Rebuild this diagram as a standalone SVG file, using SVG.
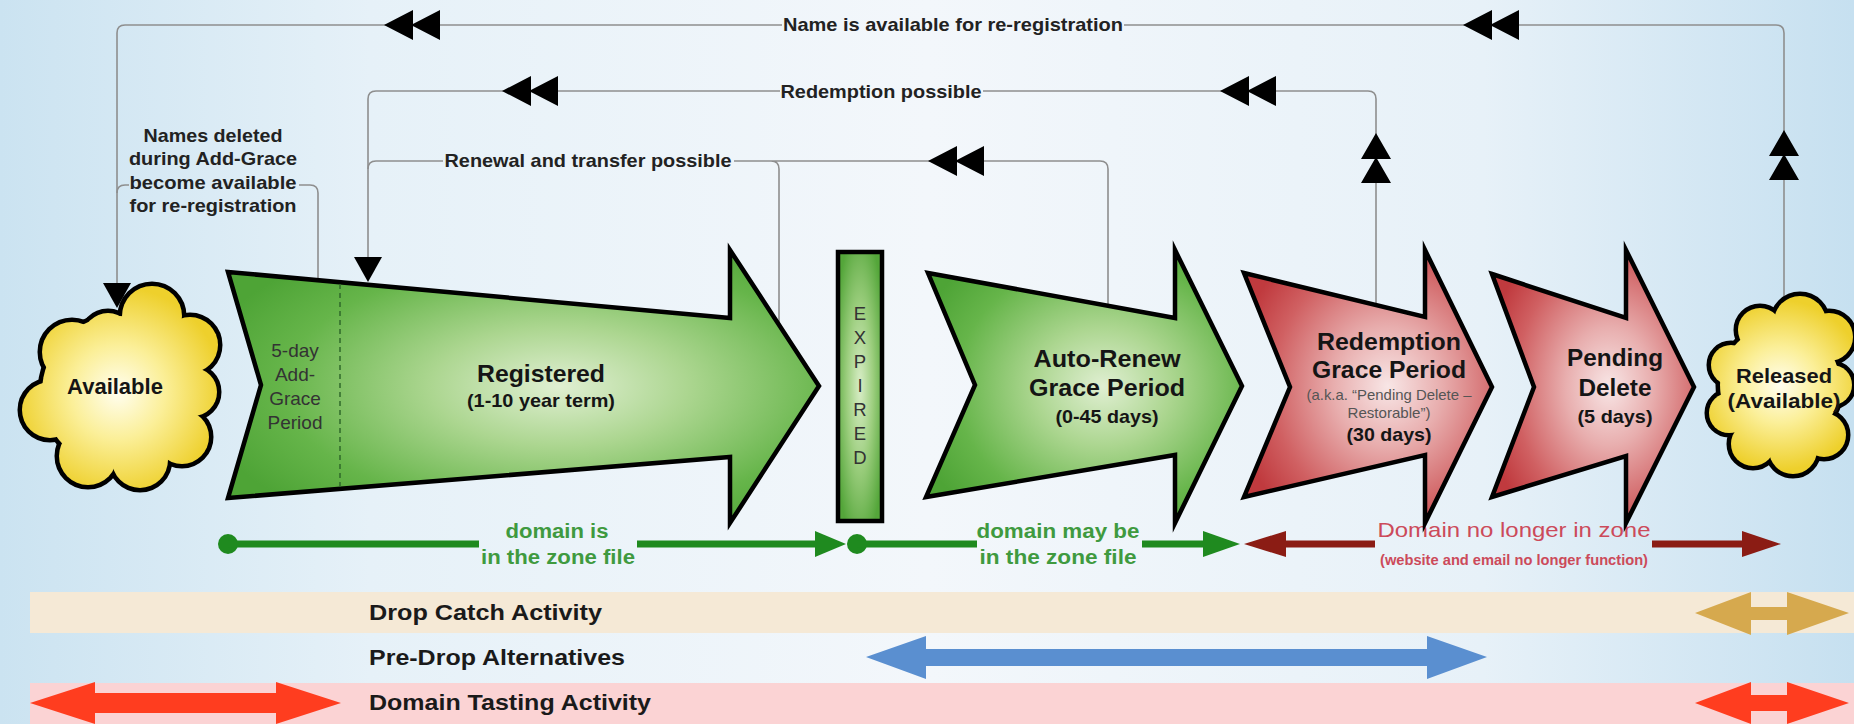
<svg xmlns="http://www.w3.org/2000/svg" xmlns:xlink="http://www.w3.org/1999/xlink" width="1854" height="724" viewBox="0 0 1854 724">
<defs>
<linearGradient id="bg" x1="0" y1="0" x2="1" y2="0">
<stop offset="0" stop-color="#cbe3f1"/><stop offset="0.2" stop-color="#e6f1f8"/><stop offset="0.5" stop-color="#f3f7fb"/><stop offset="0.8" stop-color="#e7f1f8"/><stop offset="1" stop-color="#c6e0f0"/>
</linearGradient>
<radialGradient id="gGreen" cx="0.56" cy="0.5" r="0.62">
<stop offset="0" stop-color="#e0efd2"/><stop offset="0.35" stop-color="#acd690"/><stop offset="0.75" stop-color="#66b54a"/><stop offset="1" stop-color="#4ea436"/>
</radialGradient>
<radialGradient id="gRed" cx="0.58" cy="0.5" r="0.62">
<stop offset="0" stop-color="#f8e6e6"/><stop offset="0.35" stop-color="#e8aeae"/><stop offset="0.75" stop-color="#d06062"/><stop offset="1" stop-color="#c03a3e"/>
</radialGradient>
<radialGradient id="gExp" cx="0.5" cy="0.5" r="0.6">
<stop offset="0" stop-color="#d8edc6"/><stop offset="0.5" stop-color="#9cce7e"/><stop offset="1" stop-color="#54a63a"/>
</radialGradient>
<radialGradient id="gCloudA" gradientUnits="userSpaceOnUse" cx="118" cy="392" r="105">
<stop offset="0" stop-color="#fffef0"/><stop offset="0.45" stop-color="#fbef98"/><stop offset="1" stop-color="#eed02c"/>
</radialGradient>
<radialGradient id="gCloudR" gradientUnits="userSpaceOnUse" cx="1780" cy="385" r="85">
<stop offset="0" stop-color="#fffef0"/><stop offset="0.45" stop-color="#fbef98"/><stop offset="1" stop-color="#eed02c"/>
</radialGradient>
<g id="cloudA">
<circle cx="152" cy="316" r="30"/><circle cx="190" cy="345" r="28"/><circle cx="193" cy="392" r="24"/><circle cx="182" cy="437" r="27"/><circle cx="140" cy="460" r="28"/><circle cx="88" cy="456" r="29"/><circle cx="50" cy="410" r="28"/><circle cx="72" cy="352" r="30"/><circle cx="108" cy="338" r="25"/><circle cx="118" cy="392" r="76"/>
</g>
<g id="cloudR">
<circle cx="1760" cy="330" r="22"/><circle cx="1800" cy="322" r="26"/><circle cx="1829" cy="337" r="24"/><circle cx="1832" cy="385" r="20"/><circle cx="1824" cy="435" r="22"/><circle cx="1793" cy="450" r="24"/><circle cx="1753" cy="444" r="22"/><circle cx="1729" cy="413" r="20"/><circle cx="1731" cy="365" r="20"/><circle cx="1780" cy="385" r="60"/>
</g>
<path id="dblL" d="M0,0 L29,-15 L29,15 Z M27,0 L56,-15 L56,15 Z"/>
<path id="dblU" d="M0,0 L15,26 L-15,26 Z M0,24 L15,50 L-15,50 Z"/>
<path id="triD" d="M-14,0 L14,0 L0,25 Z"/>
</defs>
<style>
text{font-family:"Liberation Sans",Arial,Helvetica,sans-serif}
.conn{fill:none;stroke:#8e8e8e;stroke-width:1.6}
.ah{fill:#000}
.clbl{font-weight:bold;font-size:18.5px;fill:#222;text-anchor:middle}
.stage{stroke:#000;stroke-width:4.5;stroke-linejoin:miter;stroke-miterlimit:10}
.green{fill:url(#gGreen)}
.red{fill:url(#gRed)}
.big{font-weight:bold;font-size:24px;fill:#151515;text-anchor:middle}
.sub{font-weight:bold;font-size:19px;fill:#151515;text-anchor:middle}
.cloudtxt{font-weight:bold;font-size:21px;fill:#151515;text-anchor:middle}
.small{font-size:14.5px;fill:#555;text-anchor:middle}
.ag{font-size:19px;fill:#333;text-anchor:middle}
.exp{font-size:18.5px;fill:#333;text-anchor:middle}
.zg{font-weight:bold;font-size:20px;fill:#3f9a3f;text-anchor:middle}
.zr{font-size:21px;fill:#cc4a5a;text-anchor:middle}
.band{font-weight:bold;font-size:22px;fill:#1a1a1a}
</style>
<rect id="background" x="0" y="0" width="1854" height="724" fill="url(#bg)"/>

<g id="activity-bands">
<rect x="30" y="592" width="1824" height="41" fill="#f5e9d6"/>
<rect x="30" y="683" width="1824" height="41" fill="#fbd3d4"/>
<text class="band" x="369" y="620" textLength="233" lengthAdjust="spacingAndGlyphs">Drop Catch Activity</text>
<text class="band" x="369" y="665" textLength="256" lengthAdjust="spacingAndGlyphs">Pre-Drop Alternatives</text>
<text class="band" x="369" y="710" textLength="282" lengthAdjust="spacingAndGlyphs">Domain Tasting Activity</text>
<polygon fill="#d6a94e" points="1695,613 1751,592 1751,607 1787,607 1787,592 1849,613 1787,635 1787,620 1751,620 1751,635"/>
<polygon fill="#5a8fd0" points="866,657 926,636 926,649 1427,649 1427,636 1487,657 1427,679 1427,666 926,666 926,679"/>
<polygon fill="#ff3d1f" points="30,703 95,682 95,693 276,693 276,682 341,703 276,724 276,713 95,713 95,724"/>
<polygon fill="#ff3d1f" points="1695,703 1751,682 1751,695 1787,695 1787,682 1849,703 1787,724 1787,711 1751,711 1751,724"/>
</g>

<g id="zone-lines">
<circle cx="228" cy="544" r="10" fill="#1f8a1f"/>
<path d="M228,544 H479 M637,544 H816" stroke="#1f8a1f" stroke-width="7" fill="none"/>
<polygon fill="#1f8a1f" points="815,531 846,544 815,557"/>
<circle cx="857" cy="544" r="10" fill="#1f8a1f"/>
<path d="M857,544 H977 M1142,544 H1204" stroke="#1f8a1f" stroke-width="7" fill="none"/>
<polygon fill="#1f8a1f" points="1203,531 1240,544 1203,557"/>
<text class="zg" x="557" y="538" textLength="103" lengthAdjust="spacingAndGlyphs">domain is</text>
<text class="zg" x="558" y="564" textLength="154" lengthAdjust="spacingAndGlyphs">in the zone file</text>
<text class="zg" x="1058" y="538" textLength="163" lengthAdjust="spacingAndGlyphs">domain may be</text>
<text class="zg" x="1058" y="564" textLength="157" lengthAdjust="spacingAndGlyphs">in the zone file</text>
<polygon fill="#8b1c14" points="1244,544 1286,531 1286,557"/>
<path d="M1285,544 H1375 M1652,544 H1743" stroke="#8b1c14" stroke-width="7" fill="none"/>
<polygon fill="#8b1c14" points="1742,531 1781,544 1742,557"/>
<text class="zr" x="1514" y="537" textLength="273" lengthAdjust="spacingAndGlyphs">Domain no longer in zone</text>
<text class="zr" x="1514" y="565" style="font-size:15px;font-weight:bold" textLength="268" lengthAdjust="spacingAndGlyphs">(website and email no longer function)</text>
</g>

<g id="connectors">
<path class="conn" d="M117,284 V33 Q117,25 125,25 H782 M1124,25 H1776 Q1784,25 1784,33 V299"/>
<path class="conn" d="M368,258 V99 Q368,91 376,91 H780 M983,91 H1368 Q1376,91 1376,99 V305"/>
<path class="conn" d="M368,169 Q368,161 376,161 H443 M734,161 H1100 Q1108,161 1108,169 V306 M771,161 Q779,161 779,169 V322"/>
<path class="conn" d="M318,280 V193 Q318,185 310,185 H299 M129,185 H125 Q117,185 117,193"/>
<use href="#triD" class="ah" x="117" y="283"/>
<use href="#triD" class="ah" x="368" y="257"/>
<use href="#dblL" class="ah" x="384" y="25"/>
<use href="#dblL" class="ah" x="1463" y="25"/>
<use href="#dblL" class="ah" x="502" y="91"/>
<use href="#dblL" class="ah" x="1220" y="91"/>
<use href="#dblL" class="ah" x="928" y="161"/>
<use href="#dblU" class="ah" x="1376" y="133"/>
<use href="#dblU" class="ah" x="1784" y="130"/>
<text class="clbl" x="953" y="31" textLength="340" lengthAdjust="spacingAndGlyphs">Name is available for re-registration</text>
<text class="clbl" x="881" y="98" textLength="201" lengthAdjust="spacingAndGlyphs">Redemption possible</text>
<text class="clbl" x="588" y="167" textLength="287" lengthAdjust="spacingAndGlyphs">Renewal and transfer possible</text>
<text class="clbl" x="213" y="142" textLength="139" lengthAdjust="spacingAndGlyphs">Names deleted</text>
<text class="clbl" x="213" y="165" textLength="168" lengthAdjust="spacingAndGlyphs">during Add-Grace</text>
<text class="clbl" x="213" y="189" textLength="167" lengthAdjust="spacingAndGlyphs">become available</text>
<text class="clbl" x="213" y="212" textLength="167" lengthAdjust="spacingAndGlyphs">for re-registration</text>
</g>

<g id="node-available">
<use href="#cloudA" fill="#000" stroke="#000" stroke-width="9"/>
<use href="#cloudA" fill="url(#gCloudA)"/>
<text class="cloudtxt" x="115" y="394" style="font-size:22px">Available</text>
</g>

<g id="node-registered">
<polygon class="stage green" points="228,272 730,318 730,250 819,386 730,523 730,457 228,498 261,385"/>
<line x1="340" y1="284" x2="340" y2="487" stroke="#2f6a2a" stroke-width="1.5" stroke-dasharray="5,4"/>
<text class="ag" x="295" y="357">5-day</text>
<text class="ag" x="295" y="381">Add-</text>
<text class="ag" x="295" y="405">Grace</text>
<text class="ag" x="295" y="429">Period</text>
<text class="big" x="541" y="382" textLength="128" lengthAdjust="spacingAndGlyphs">Registered</text>
<text class="sub" x="541" y="407" textLength="148" lengthAdjust="spacingAndGlyphs">(1-10 year term)</text>
</g>

<g id="node-expired">
<rect x="838" y="252" width="44" height="269" fill="url(#gExp)" stroke="#000" stroke-width="4.5"/>
<text class="exp" x="860" y="320">E</text>
<text class="exp" x="860" y="344">X</text>
<text class="exp" x="860" y="368">P</text>
<text class="exp" x="860" y="392">I</text>
<text class="exp" x="860" y="416">R</text>
<text class="exp" x="860" y="440">E</text>
<text class="exp" x="860" y="464">D</text>
</g>

<g id="node-auto-renew">
<polygon class="stage green" points="928,273 1175,318 1175,250 1242,386 1175,523 1175,455 926,497 975,385"/>
<text class="big" x="1107" y="367" textLength="147" lengthAdjust="spacingAndGlyphs">Auto-Renew</text>
<text class="big" x="1107" y="396" textLength="156" lengthAdjust="spacingAndGlyphs">Grace Period</text>
<text class="sub" x="1107" y="423" textLength="103" lengthAdjust="spacingAndGlyphs">(0-45 days)</text>
</g>

<g id="node-redemption">
<polygon class="stage red" points="1244,273 1425,317 1425,250 1492,387 1425,523 1425,455 1244,497 1290,387"/>
<text class="big" x="1389" y="350" textLength="144" lengthAdjust="spacingAndGlyphs">Redemption</text>
<text class="big" x="1389" y="378" textLength="154" lengthAdjust="spacingAndGlyphs">Grace Period</text>
<text class="small" x="1389" y="400" textLength="165" lengthAdjust="spacingAndGlyphs">(a.k.a. “Pending Delete –</text>
<text class="small" x="1389" y="418" textLength="83" lengthAdjust="spacingAndGlyphs">Restorable”)</text>
<text class="sub" x="1389" y="441" textLength="85" lengthAdjust="spacingAndGlyphs">(30 days)</text>
</g>

<g id="node-pending-delete">
<polygon class="stage red" points="1492,274 1626,318 1626,250 1694,387 1626,523 1626,456 1492,497 1534,387"/>
<text class="big" x="1615" y="366" textLength="96" lengthAdjust="spacingAndGlyphs">Pending</text>
<text class="big" x="1615" y="396" textLength="73" lengthAdjust="spacingAndGlyphs">Delete</text>
<text class="sub" x="1615" y="423" textLength="75" lengthAdjust="spacingAndGlyphs">(5 days)</text>
</g>

<g id="node-released">
<use href="#cloudR" fill="#000" stroke="#000" stroke-width="9"/>
<use href="#cloudR" fill="url(#gCloudR)"/>
<text class="cloudtxt" x="1784" y="383" textLength="96" lengthAdjust="spacingAndGlyphs">Released</text>
<text class="cloudtxt" x="1784" y="408" textLength="113" lengthAdjust="spacingAndGlyphs">(Available)</text>
</g>
</svg>
